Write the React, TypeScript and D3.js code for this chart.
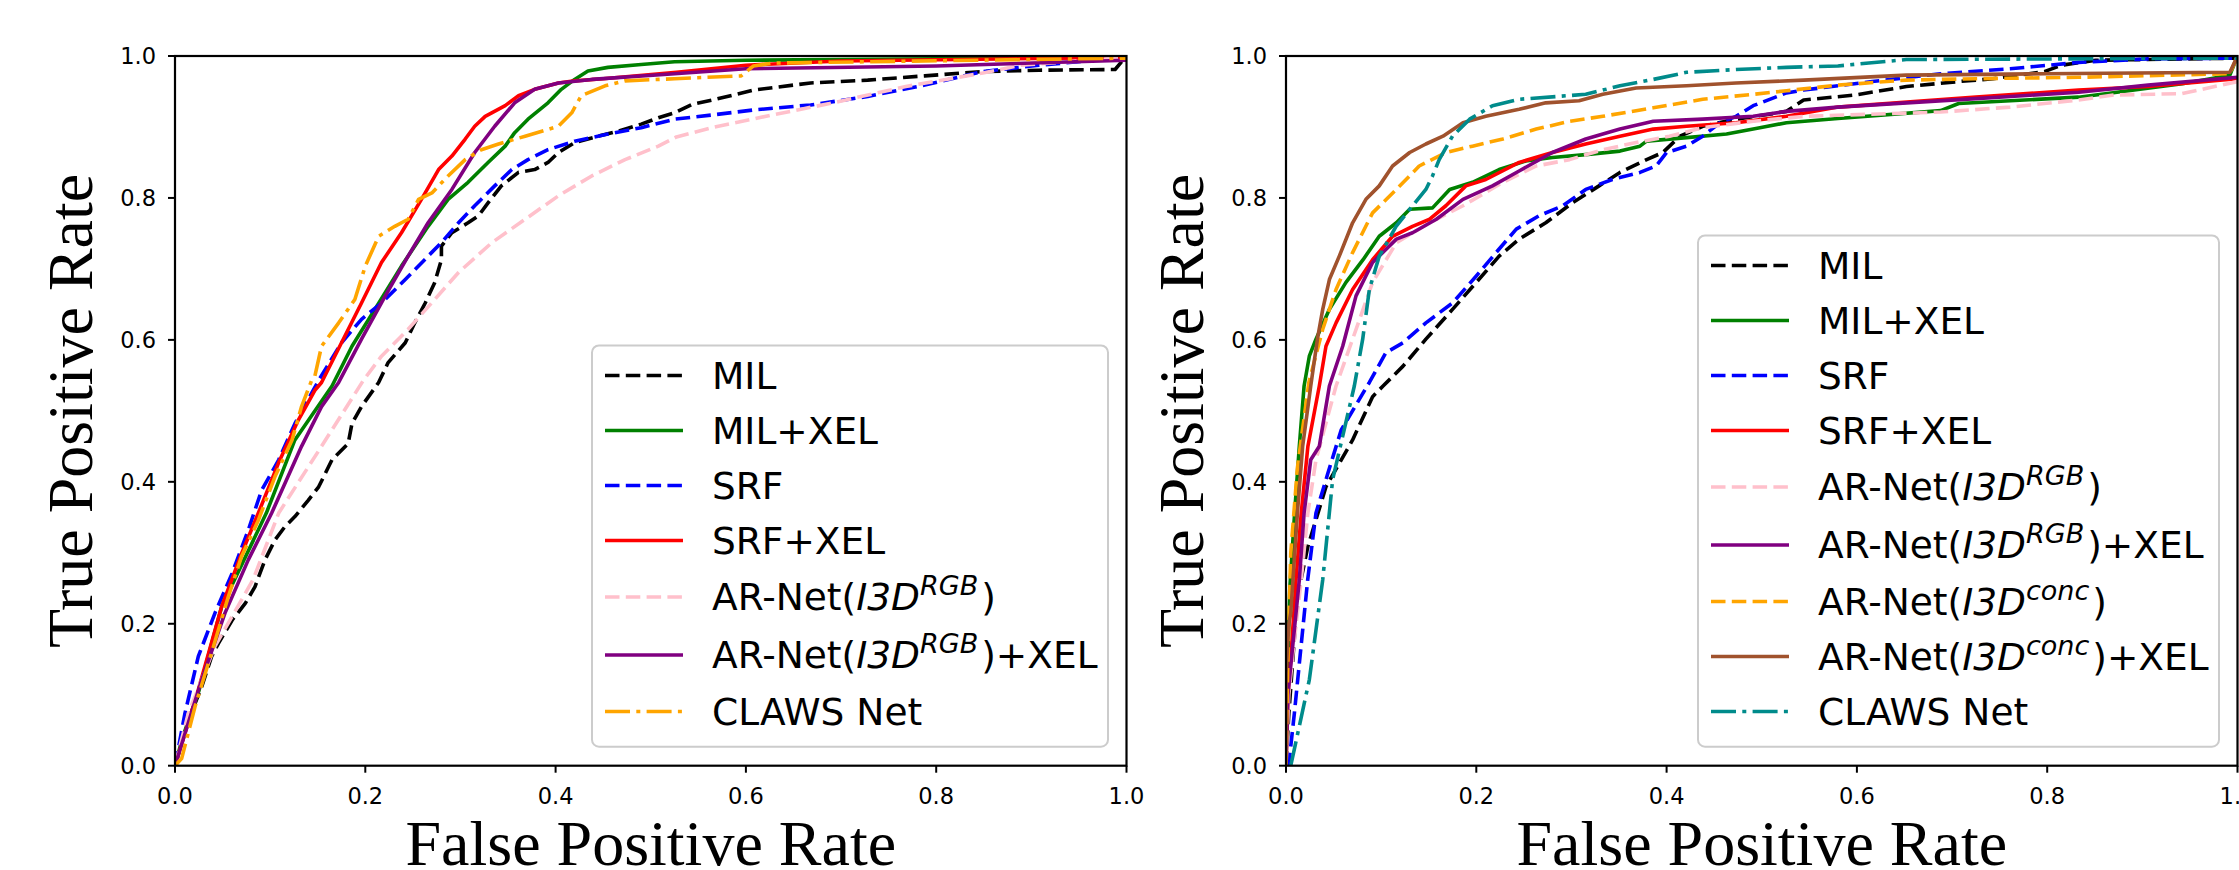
import React from "react";
import * as d3 from "d3";

type Pt = [number, number];

// ---------- data: left panel ----------
const leftMIL: Pt[] = [[0,0],[0.014,0.064],[0.028,0.111],[0.0385,0.154],[0.0455,0.172],[0.06,0.205],[0.074,0.229],[0.084,0.252],[0.0946,0.29],[0.105,0.318],[0.1156,0.337],[0.126,0.351],[0.14,0.374],[0.151,0.393],[0.165,0.431],[0.182,0.454],[0.186,0.482],[0.196,0.506],[0.214,0.54],[0.224,0.568],[0.242,0.596],[0.252,0.624],[0.263,0.652],[0.273,0.681],[0.28,0.713],[0.28,0.732],[0.291,0.751],[0.308,0.765],[0.319,0.775],[0.329,0.793],[0.343,0.817],[0.361,0.836],[0.378,0.84],[0.392,0.85],[0.403,0.864],[0.42,0.878],[0.445,0.887],[0.466,0.894],[0.49,0.904],[0.508,0.913],[0.525,0.92],[0.544,0.932],[0.565,0.938],[0.608,0.952],[0.668,0.962],[0.728,0.966],[0.788,0.972],[0.848,0.978],[0.908,0.98],[0.988,0.981],[1,1]];
const leftMILXEL: Pt[] = [[0,0],[0.008,0.04],[0.025,0.105],[0.049,0.224],[0.096,0.356],[0.126,0.459],[0.165,0.535],[0.186,0.591],[0.21,0.643],[0.238,0.704],[0.266,0.76],[0.287,0.798],[0.308,0.822],[0.329,0.85],[0.347,0.873],[0.357,0.892],[0.371,0.911],[0.392,0.934],[0.406,0.953],[0.42,0.967],[0.434,0.979],[0.455,0.984],[0.49,0.988],[0.525,0.992],[0.6,0.994],[0.8,0.996],[1,1]];
const leftSRF: Pt[] = [[0,0],[0.0105,0.074],[0.0245,0.154],[0.042,0.215],[0.06,0.271],[0.077,0.332],[0.091,0.388],[0.109,0.431],[0.126,0.482],[0.151,0.543],[0.175,0.596],[0.196,0.629],[0.217,0.652],[0.242,0.685],[0.266,0.718],[0.28,0.737],[0.298,0.765],[0.315,0.789],[0.336,0.817],[0.354,0.84],[0.371,0.854],[0.392,0.868],[0.42,0.88],[0.455,0.89],[0.49,0.899],[0.525,0.911],[0.565,0.917],[0.608,0.924],[0.668,0.931],[0.728,0.943],[0.788,0.959],[0.848,0.978],[0.908,0.987],[1,0.998]];
const leftSRFXEL: Pt[] = [[0,0],[0.0245,0.107],[0.049,0.224],[0.07,0.299],[0.0876,0.356],[0.1086,0.426],[0.1296,0.487],[0.147,0.529],[0.154,0.54],[0.175,0.596],[0.196,0.652],[0.217,0.709],[0.238,0.751],[0.259,0.798],[0.277,0.84],[0.291,0.859],[0.305,0.883],[0.315,0.901],[0.326,0.915],[0.347,0.93],[0.361,0.944],[0.378,0.953],[0.403,0.962],[0.42,0.965],[0.45,0.968],[0.527,0.977],[0.6,0.987],[0.7,0.993],[1,0.998]];
const leftARNetRGB: Pt[] = [[0,0],[0.014,0.074],[0.042,0.168],[0.082,0.262],[0.109,0.356],[0.154,0.45],[0.198,0.543],[0.217,0.577],[0.245,0.615],[0.273,0.657],[0.298,0.695],[0.333,0.737],[0.368,0.77],[0.403,0.803],[0.438,0.831],[0.473,0.854],[0.508,0.873],[0.527,0.886],[0.567,0.9],[0.628,0.917],[0.688,0.933],[0.768,0.957],[0.849,0.976],[0.889,0.987],[1,0.998]];
const leftARNetRGBXEL: Pt[] = [[0,0],[0.028,0.121],[0.0525,0.215],[0.077,0.29],[0.1016,0.356],[0.133,0.45],[0.154,0.506],[0.172,0.54],[0.196,0.601],[0.221,0.662],[0.245,0.718],[0.266,0.765],[0.291,0.812],[0.315,0.864],[0.336,0.901],[0.357,0.934],[0.378,0.953],[0.403,0.962],[0.438,0.967],[0.525,0.975],[0.6,0.982],[0.8,0.986],[1,0.994]];
const leftCLAWS: Pt[] = [[0,0],[0.007,0.01],[0.021,0.083],[0.035,0.144],[0.056,0.238],[0.07,0.295],[0.0876,0.346],[0.105,0.407],[0.123,0.459],[0.133,0.506],[0.1436,0.543],[0.147,0.549],[0.154,0.591],[0.172,0.624],[0.189,0.657],[0.2,0.704],[0.214,0.746],[0.231,0.76],[0.245,0.77],[0.256,0.798],[0.27,0.807],[0.287,0.831],[0.305,0.854],[0.322,0.868],[0.34,0.876],[0.368,0.887],[0.403,0.901],[0.417,0.92],[0.427,0.944],[0.452,0.958],[0.473,0.965],[0.525,0.968],[0.595,0.972],[0.608,0.986],[0.628,0.99],[1,0.997]];

// ---------- data: right panel ----------
const rightMIL: Pt[] = [[0,0],[0.003,0.074],[0.012,0.238],[0.023,0.309],[0.042,0.393],[0.07,0.459],[0.091,0.52],[0.102,0.535],[0.123,0.563],[0.147,0.601],[0.175,0.643],[0.2,0.681],[0.224,0.718],[0.245,0.742],[0.273,0.765],[0.301,0.793],[0.329,0.817],[0.351,0.836],[0.379,0.854],[0.396,0.864],[0.414,0.887],[0.438,0.901],[0.473,0.911],[0.508,0.918],[0.526,0.922],[0.544,0.938],[0.598,0.945],[0.652,0.957],[0.707,0.964],[0.743,0.968],[0.797,0.978],[0.815,0.987],[0.851,0.994],[1,0.997]];
const rightMILXEL: Pt[] = [[0,0],[0.001,0.1],[0.004,0.25],[0.009,0.355],[0.014,0.45],[0.019,0.535],[0.0245,0.577],[0.0315,0.601],[0.0456,0.643],[0.063,0.681],[0.081,0.713],[0.098,0.746],[0.116,0.765],[0.13,0.784],[0.154,0.786],[0.172,0.812],[0.196,0.822],[0.224,0.84],[0.252,0.852],[0.28,0.857],[0.315,0.861],[0.351,0.866],[0.372,0.873],[0.379,0.88],[0.421,0.885],[0.463,0.89],[0.498,0.899],[0.526,0.906],[0.58,0.912],[0.688,0.923],[0.707,0.933],[0.833,0.942],[0.942,0.961],[0.992,0.973],[1,1]];
const rightSRF: Pt[] = [[0,0],[0.003,0.003],[0.0088,0.074],[0.0158,0.168],[0.0228,0.262],[0.0315,0.356],[0.044,0.412],[0.058,0.473],[0.0876,0.54],[0.105,0.582],[0.123,0.596],[0.147,0.624],[0.175,0.652],[0.2,0.69],[0.224,0.728],[0.242,0.756],[0.266,0.775],[0.291,0.789],[0.315,0.812],[0.343,0.826],[0.372,0.836],[0.389,0.845],[0.4,0.864],[0.421,0.873],[0.438,0.887],[0.456,0.906],[0.473,0.915],[0.491,0.93],[0.526,0.948],[0.544,0.952],[0.616,0.964],[0.688,0.975],[0.761,0.982],[0.833,0.991],[0.906,0.996],[1,0.997]];
const rightSRFXEL: Pt[] = [[0,0],[0.002,0.1],[0.005,0.15],[0.0105,0.262],[0.016,0.356],[0.023,0.45],[0.035,0.535],[0.042,0.591],[0.0526,0.624],[0.07,0.671],[0.091,0.713],[0.112,0.746],[0.133,0.76],[0.151,0.77],[0.168,0.789],[0.189,0.817],[0.21,0.826],[0.245,0.85],[0.28,0.864],[0.315,0.876],[0.351,0.887],[0.386,0.897],[0.421,0.901],[0.473,0.906],[0.526,0.915],[0.58,0.928],[0.725,0.942],[0.833,0.952],[0.906,0.957],[1,0.968]];
const rightARNetRGB: Pt[] = [[0,0],[0.003,0.1],[0.008,0.168],[0.016,0.262],[0.023,0.356],[0.0315,0.431],[0.0526,0.535],[0.07,0.601],[0.091,0.681],[0.116,0.737],[0.151,0.765],[0.186,0.789],[0.228,0.822],[0.263,0.845],[0.298,0.854],[0.333,0.868],[0.368,0.878],[0.403,0.887],[0.438,0.899],[0.491,0.908],[0.544,0.915],[0.688,0.921],[0.761,0.928],[0.833,0.938],[0.87,0.945],[0.942,0.947],[1,0.964]];
const rightARNetRGBXEL: Pt[] = [[0,0],[0.002,0.1],[0.007,0.168],[0.014,0.262],[0.019,0.356],[0.026,0.431],[0.035,0.45],[0.0456,0.535],[0.0596,0.591],[0.0736,0.662],[0.091,0.709],[0.116,0.742],[0.133,0.751],[0.158,0.77],[0.186,0.798],[0.217,0.817],[0.245,0.838],[0.28,0.864],[0.315,0.883],[0.351,0.897],[0.386,0.908],[0.438,0.911],[0.491,0.915],[0.526,0.922],[0.58,0.928],[0.725,0.94],[0.833,0.949],[0.906,0.959],[1,0.97]];
const rightARNetConc: Pt[] = [[0,0],[0.002,0.15],[0.005,0.3],[0.012,0.42],[0.024,0.54],[0.0386,0.615],[0.0526,0.671],[0.07,0.723],[0.091,0.779],[0.116,0.812],[0.14,0.845],[0.168,0.864],[0.196,0.873],[0.228,0.883],[0.263,0.897],[0.298,0.908],[0.333,0.915],[0.386,0.927],[0.438,0.939],[0.491,0.946],[0.526,0.951],[0.58,0.959],[0.652,0.966],[0.725,0.968],[0.833,0.97],[0.992,0.975],[1,1]];
const rightARNetConcXEL: Pt[] = [[0,0],[0,0.13],[0.003,0.2],[0.005,0.215],[0.012,0.356],[0.0175,0.45],[0.026,0.535],[0.033,0.601],[0.0386,0.643],[0.0456,0.685],[0.056,0.718],[0.07,0.765],[0.084,0.798],[0.098,0.817],[0.112,0.845],[0.13,0.864],[0.147,0.876],[0.165,0.887],[0.186,0.906],[0.21,0.915],[0.245,0.925],[0.273,0.934],[0.308,0.937],[0.333,0.946],[0.368,0.955],[0.421,0.958],[0.473,0.962],[0.544,0.966],[0.652,0.973],[0.797,0.975],[0.992,0.977],[1,1]];
const rightCLAWS: Pt[] = [[0.005,0],[0.0245,0.121],[0.0386,0.262],[0.049,0.403],[0.0718,0.535],[0.0806,0.601],[0.0876,0.671],[0.098,0.718],[0.1157,0.76],[0.13,0.784],[0.147,0.812],[0.154,0.831],[0.161,0.854],[0.175,0.887],[0.193,0.911],[0.217,0.93],[0.245,0.939],[0.315,0.946],[0.351,0.958],[0.386,0.967],[0.421,0.977],[0.473,0.981],[0.526,0.984],[0.58,0.986],[0.652,0.995],[1,0.997]];

// labels (mathtext-like: $I3D^{RGB}$)
const leftLabels = ["MIL", "MIL+XEL", "SRF", "SRF+XEL", "AR-Net($I3D^{RGB}$)", "AR-Net($I3D^{RGB}$)+XEL", "CLAWS Net"];
const rightLabels = ["MIL", "MIL+XEL", "SRF", "SRF+XEL", "AR-Net($I3D^{RGB}$)", "AR-Net($I3D^{RGB}$)+XEL", "AR-Net($I3D^{conc}$)", "AR-Net($I3D^{conc}$)+XEL", "CLAWS Net"];
const leftData = [leftMIL, leftMILXEL, leftSRF, leftSRFXEL, leftARNetRGB, leftARNetRGBXEL, leftCLAWS];
const rightData = [rightMIL, rightMILXEL, rightSRF, rightSRFXEL, rightARNetRGB, rightARNetRGBXEL, rightARNetConc, rightARNetConcXEL, rightCLAWS];
const leftColors = ["#000000", "#008000", "#0000ff", "#ff0000", "#ffc0cb", "#800080", "#ffa500"];
const rightColors = ["#000000", "#008000", "#0000ff", "#ff0000", "#ffc0cb", "#800080", "#ffa500", "#a0522d", "#008b8b"];
const leftStyles = ["dash", "solid", "dash", "solid", "dash", "solid", "dashdot"];
const rightStyles = ["dash", "solid", "dash", "solid", "dash", "solid", "dash", "solid", "dashdot"];
const tickValues = [0, 0.2, 0.4, 0.6, 0.8, 1.0];
const xLabel = "False Positive Rate";
const yLabel = "True Positive Rate";

const W = 2239, H = 870;
const AX_TOP = 56, AX_BOTTOM = 765.7, AX_W = 951.5;
const LW = 3.6;
const DASH = "14.5 6.3";
const DASHDOT = "25 6.3 4 6.3";
const TICK_FONT = "'DejaVu Sans', sans-serif";
const LEG_FS = 37.5;

function dashOf(s: string) {
  return s === "dash" ? DASH : s === "dashdot" ? DASHDOT : undefined;
}

function Label({ text, x, y }: { text: string; x: number; y: number }) {
  const m = text.match(/^(.*)\$(.*)\^\{(.*)\}\$(.*)$/);
  if (!m) return <text x={x} y={y} fontFamily={TICK_FONT} fontSize={LEG_FS}>{text}</text>;
  return (
    <text x={x} y={y} fontFamily={TICK_FONT} fontSize={LEG_FS}>
      <tspan>{m[1]}</tspan>
      <tspan fontStyle="italic">{m[2]}</tspan>
      <tspan fontStyle="italic" fontSize={27} dy={-15}>{m[3]}</tspan>
      <tspan dy={15} dx={3}>{m[4]}</tspan>
    </text>
  );
}

function Panel({ id, x0, data, labels, colors, styles, legendW }: {
  id: string; x0: number; data: Pt[][]; labels: string[]; colors: string[]; styles: string[]; legendW: number;
}) {
  const x = d3.scaleLinear().domain([0, 1]).range([x0, x0 + AX_W]);
  const y = d3.scaleLinear().domain([0, 1]).range([AX_BOTTOM, AX_TOP]);
  const line = d3.line<Pt>().x((d) => x(d[0])).y((d) => y(d[1]));

  // legend rows, computed from the bottom
  const isSup = labels.map((l) => l.includes("RGB"));
  const rowsY: number[] = new Array(labels.length);
  rowsY[labels.length - 1] = AX_BOTTOM - 54.2;
  for (let i = labels.length - 2; i >= 0; i--) {
    rowsY[i] = rowsY[i + 1] - (55 + 1.5 * ((isSup[i] ? 1 : 0) + (isSup[i + 1] ? 1 : 0)));
  }
  const boxRight = x0 + AX_W - 18.5;
  const boxLeft = boxRight - legendW;
  const boxTop = rowsY[0] - 30;
  const boxBottom = AX_BOTTOM - 19;

  return (
    <g>
      <defs>
        <clipPath id={id}>
          <rect x={x0} y={AX_TOP} width={AX_W} height={AX_BOTTOM - AX_TOP} />
        </clipPath>
      </defs>
      <g clipPath={`url(#${id})`}>
        {data.map((d, i) => (
          <path key={i} d={line(d) || ""} fill="none" stroke={colors[i]} strokeWidth={LW}
            strokeDasharray={dashOf(styles[i])} strokeLinejoin="round" />
        ))}
      </g>
      {/* spines */}
      <rect x={x0} y={AX_TOP} width={AX_W} height={AX_BOTTOM - AX_TOP} fill="none" stroke="#000" strokeWidth={2.2} />
      {/* ticks */}
      {tickValues.map((t) => (
        <g key={"x" + t}>
          <line x1={x(t)} x2={x(t)} y1={AX_BOTTOM} y2={AX_BOTTOM + 7} stroke="#000" strokeWidth={2} />
          <text x={x(t)} y={AX_BOTTOM + 38} textAnchor="middle" fontFamily={TICK_FONT} fontSize={22.5}>{t.toFixed(1)}</text>
        </g>
      ))}
      {tickValues.map((t) => (
        <g key={"y" + t}>
          <line x1={x0 - 7} x2={x0} y1={y(t)} y2={y(t)} stroke="#000" strokeWidth={2} />
          <text x={x0 - 19} y={y(t) + 8} textAnchor="end" fontFamily={TICK_FONT} fontSize={22.5}>{t.toFixed(1)}</text>
        </g>
      ))}
      {/* axis labels */}
      <text x={x0 + AX_W / 2} y={865} textAnchor="middle" fontFamily="'Liberation Serif', 'Times New Roman', serif" fontSize={64}>{xLabel}</text>
      <text transform={`translate(${x0 - 83},${(AX_TOP + AX_BOTTOM) / 2}) rotate(-90)`} textAnchor="middle"
        fontFamily="'Liberation Serif', 'Times New Roman', serif" fontSize={64}>{yLabel}</text>
      {/* legend */}
      <rect x={boxLeft} y={boxTop} width={legendW} height={boxBottom - boxTop} rx={7} ry={7}
        fill="#fff" fillOpacity={0.8} stroke="#cccccc" strokeWidth={2} />
      {labels.map((lab, i) => (
        <g key={lab}>
          <line x1={boxLeft + 13} x2={boxLeft + 91} y1={rowsY[i]} y2={rowsY[i]} stroke={colors[i]} strokeWidth={LW}
            strokeDasharray={dashOf(styles[i])} />
          <Label text={lab} x={boxLeft + 120} y={rowsY[i] + 13} />
        </g>
      ))}
    </g>
  );
}

export default function App() {
  return (
    <svg width={W} height={H} style={{ position: "absolute", left: 0, top: 0, background: "#fff" }}>
      <rect width={W} height={H} fill="#fff" />
      <Panel id="clipL" x0={175} data={leftData} labels={leftLabels} colors={leftColors} styles={leftStyles} legendW={516} />
      <Panel id="clipR" x0={1286} data={rightData} labels={rightLabels} colors={rightColors} styles={rightStyles} legendW={521} />
    </svg>
  );
}
